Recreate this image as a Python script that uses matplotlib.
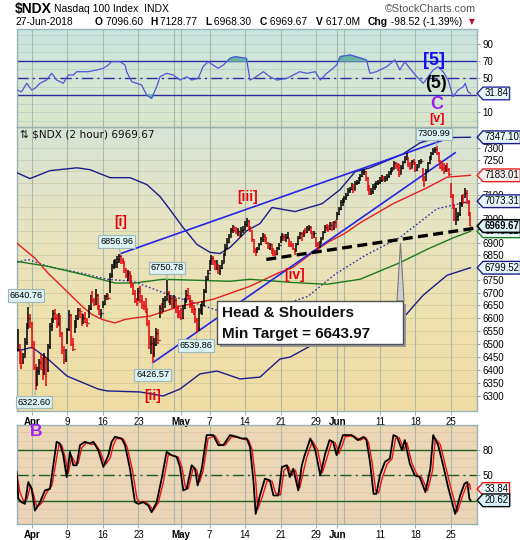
import numpy as np
import matplotlib
matplotlib.use("Agg")
import matplotlib.pyplot as plt
from matplotlib.path import Path
from matplotlib.patches import Rectangle, Polygon
from matplotlib.colors import LinearSegmentedColormap
from matplotlib.ticker import FixedLocator, FixedFormatter, NullLocator

plt.rcParams['font.family'] = ['Liberation Sans', 'DejaVu Sans']

# ------------------------------------------------------------------ data
# 2-hour bars, 4 per trading day, 28-Mar-2018 .. 27-Jun-2018 (high, low, close)
bar_high = [
    6555, 6500, 6470, 6465,  6520, 6580, 6641, 6615,  6585, 6510, 6420, 6410,
    6440, 6460, 6450, 6465,  6450, 6500, 6580, 6600,  6630, 6635, 6615, 6620,
    6610, 6545, 6490, 6480,  6560, 6630, 6615, 6520,  6590, 6610, 6640, 6640,
    6620, 6615, 6625, 6600,  6650, 6690, 6705, 6680,  6715, 6695, 6650, 6635,
    6665, 6690, 6700, 6695,  6780, 6815, 6830, 6835,  6845, 6857, 6850, 6840,
    6825, 6800, 6790, 6785,  6770, 6740, 6710, 6680,  6720, 6725, 6690, 6665,
    6680, 6640, 6590, 6530,  6530, 6520, 6560, 6555,  6650, 6660, 6680, 6685,
    6751, 6705, 6690, 6685,  6690, 6680, 6650, 6630,  6640, 6650, 6680, 6710,
    6720, 6690, 6670, 6650,  6640, 6600, 6640, 6655,  6665, 6715, 6765, 6790,
    6830, 6852, 6845, 6830,  6830, 6815, 6810, 6830,  6860, 6895, 6920, 6935,
    6960, 6975, 6970, 6965,  6960, 6950, 6965, 6970,  6990, 7005, 6995, 6970,
    6950, 6915, 6880, 6885,  6900, 6925, 6940, 6935,  6925, 6905, 6900, 6895,
    6880, 6870, 6885, 6900,  6930, 6940, 6935, 6935,  6945, 6920, 6910, 6900,
    6880, 6900, 6930, 6945,  6945, 6955, 6960, 6970,  6975, 6970, 6950, 6950,
    6925, 6905, 6910, 6925,  6950, 6975, 6980, 6975,  6985, 6985, 6990, 6995,
    7030, 7050, 7080, 7085,  7095, 7110, 7130, 7135,  7150, 7145, 7160, 7165,
    7175, 7190, 7205, 7210,  7200, 7175, 7140, 7130,  7145, 7150, 7160, 7165,
    7175, 7185, 7180, 7180,  7190, 7200, 7215, 7220,  7245, 7240, 7235, 7230,
    7225, 7245, 7265, 7280,  7260, 7240, 7250, 7255,  7240, 7230, 7250, 7255,
    7215, 7180, 7210, 7240,  7265, 7285, 7300, 7305,  7309.99, 7285, 7250, 7245,
    7235, 7225, 7235, 7215,  7150, 7105, 7060, 7045,  7030, 7070, 7100, 7105,
    7128.77, 7120, 7080, 7030]
bar_low = [
    6470, 6420, 6401, 6420,  6450, 6495, 6555, 6560,  6480, 6400, 6322.6, 6340,
    6380, 6400, 6360, 6380,  6340, 6390, 6480, 6550,  6580, 6590, 6560, 6570,
    6525, 6460, 6420, 6430,  6500, 6550, 6490, 6470,  6540, 6560, 6590, 6600,
    6570, 6575, 6580, 6565,  6600, 6630, 6660, 6645,  6650, 6630, 6610, 6600,
    6640, 6650, 6670, 6670,  6700, 6760, 6795, 6800,  6800, 6820, 6815, 6815,
    6780, 6760, 6745, 6740,  6720, 6690, 6660, 6645,  6665, 6660, 6635, 6630,
    6620, 6570, 6480, 6460,  6426.57, 6450, 6490, 6500,  6600, 6615, 6625, 6640,
    6670, 6660, 6650, 6640,  6640, 6620, 6600, 6600,  6590, 6595, 6635, 6660,
    6670, 6640, 6620, 6610,  6580, 6539.86, 6550, 6615,  6610, 6645, 6700, 6750,
    6785, 6810, 6810, 6790,  6790, 6775, 6770, 6795,  6820, 6845, 6875, 6900,
    6925, 6940, 6945, 6935,  6930, 6920, 6925, 6940,  6955, 6965, 6955, 6945,
    6905, 6860, 6845, 6860,  6870, 6890, 6905, 6905,  6895, 6875, 6870, 6855,
    6848, 6845, 6850, 6870,  6900, 6910, 6910, 6905,  6915, 6885, 6885, 6870,
    6852, 6865, 6890, 6915,  6910, 6925, 6935, 6940,  6950, 6935, 6915, 6920,
    6885, 6872, 6880, 6895,  6915, 6940, 6950, 6945,  6955, 6950, 6955, 6960,
    6995, 7015, 7035, 7055,  7065, 7080, 7095, 7110,  7120, 7110, 7120, 7140,
    7145, 7160, 7175, 7185,  7160, 7115, 7100, 7100,  7105, 7120, 7130, 7140,
    7145, 7155, 7160, 7155,  7160, 7170, 7185, 7195,  7210, 7210, 7200, 7175,
    7190, 7210, 7235, 7250,  7220, 7205, 7215, 7225,  7195, 7200, 7220, 7230,
    7160, 7135, 7160, 7195,  7230, 7250, 7270, 7280,  7270, 7240, 7210, 7200,
    7190, 7195, 7195, 7180,  7085, 7040, 6990, 6973,  6990, 7010, 7050, 7060,
    7085, 7060, 7010, 6968.3]
bar_close = [
    6480, 6440, 6430, 6450,  6505, 6570, 6600, 6581,  6500, 6410, 6350, 6395,
    6430, 6420, 6395, 6450,  6400, 6490, 6570, 6590,  6620, 6600, 6580, 6605,
    6540, 6475, 6440, 6450,  6555, 6610, 6500, 6480,  6580, 6600, 6630, 6626,
    6590, 6600, 6585, 6580,  6640, 6680, 6670, 6654,  6690, 6640, 6615, 6621,
    6655, 6685, 6690, 6679,  6770, 6805, 6820, 6823,  6835, 6845, 6830, 6829,
    6790, 6770, 6780, 6770,  6730, 6700, 6670, 6658,  6705, 6670, 6650, 6646,
    6630, 6580, 6500, 6502,  6470, 6500, 6540, 6515,  6640, 6630, 6670, 6670,
    6700, 6675, 6680, 6660,  6670, 6640, 6615, 6605,  6600, 6640, 6670, 6690,
    6680, 6650, 6635, 6615,  6590, 6560, 6630, 6640,  6650, 6705, 6755, 6780,
    6820, 6840, 6825, 6800,  6800, 6785, 6800, 6820,  6850, 6880, 6905, 6925,
    6955, 6965, 6955, 6944,  6950, 6930, 6955, 6955,  6980, 6990, 6965, 6955,
    6915, 6870, 6865, 6875,  6895, 6915, 6930, 6915,  6900, 6885, 6895, 6870,
    6860, 6855, 6880, 6890,  6920, 6930, 6925, 6925,  6930, 6895, 6890, 6880,
    6870, 6895, 6920, 6940,  6935, 6950, 6945, 6960,  6965, 6945, 6935, 6940,
    6895, 6885, 6900, 6915,  6945, 6965, 6960, 6958,  6975, 6960, 6985, 6967,
    7020, 7040, 7070, 7070,  7090, 7100, 7120, 7125,  7140, 7120, 7150, 7155,
    7165, 7180, 7195, 7200,  7170, 7125, 7110, 7115,  7135, 7140, 7150, 7155,
    7165, 7175, 7170, 7172,  7180, 7195, 7205, 7210,  7235, 7225, 7215, 7190,
    7215, 7240, 7255, 7265,  7230, 7215, 7245, 7240,  7205, 7220, 7245, 7245,
    7170, 7165, 7200, 7235,  7260, 7280, 7290, 7295,  7280, 7245, 7220, 7215,
    7205, 7215, 7210, 7190,  7095, 7050, 7000, 7010,  7020, 7060, 7090, 7068.19,
    7110, 7070, 7020, 6969.67]
bars_per_day = 4

# moving averages / bands (trading-day index, price)
ma50_days = [-0.11, 2.42, 4.25, 6.65, 9.04, 10.45, 11.86, 13.69, 15.1, 16.5, 18.62, 22.85,
             27.49, 32.7, 36.65, 38.77, 41.44, 43.55, 46.08, 48.2, 52.85, 57.63, 60.45, 63.75]
ma50_vals = [6899, 6838, 6778, 6712, 6646, 6613, 6594, 6580, 6594, 6600, 6607, 6646,
             6673, 6725, 6778, 6801, 6859, 6901, 6940, 6983, 7063, 7130, 7175, 7183.01]
ma200_days = [-0.11, 4.25, 9.04, 13.69, 16.5, 20.45, 25.24, 29.89, 32.7, 38.77, 43.55,
              48.2, 53.83, 57.63, 61.3, 63.75]
ma200_vals = [6825, 6805, 6773, 6738, 6738, 6753, 6749, 6745, 6753, 6740, 6733,
              6753, 6820, 6874, 6921, 6948.12]
bbmid_days = [-0.11, 1.44, 4.25, 9.04, 12.56, 16.23, 21.86, 24.68, 28.48, 34.11, 38.34,
              40.87, 44.68, 48.9, 53.83, 59.04, 63.75]
bbmid_vals = [6821, 6833, 6805, 6777, 6753, 6745, 6685, 6661, 6626, 6622, 6661,
              6685, 6773, 6849, 6923, 7042, 7073.31]
bbup_days = [-0.11, 1.72, 4.54, 8.34, 10.17, 12.99, 15.8, 18.2, 20.03, 21.44, 23.27, 25.24,
             27.07, 28.48, 29.89, 32.28, 34.11, 35.8, 39.04, 42.85, 45.38, 47.49, 49.6,
             54.25, 56.65, 59.04, 63.75]
bbup_vals = [7194, 7169, 7203, 7215, 7207, 7173, 7173, 7143, 7093, 7038, 6964, 6894,
             6862, 6857, 6882, 6951, 6980, 7047, 7030, 7063, 7122, 7198, 7215,
             7275, 7323, 7345, 7347.10]
bblo_days = [-0.11, 2.0, 4.25, 6.93, 11.3, 12.56, 17.21, 20.45, 22.85, 25.66, 28.06, 31.3,
             34.11, 36.93, 38.34, 41.15, 48.2, 54.25, 57.07, 60.45, 63.75]
bblo_vals = [6471, 6486, 6441, 6376, 6327, 6320, 6316, 6301, 6327, 6384, 6395, 6365,
             6372, 6441, 6448, 6490, 6548, 6599, 6689, 6769, 6799.52]

chan_up_days = [14.5, 61.2]
chan_up_vals = [6856.96, 7349]
chan_lo_days = [19.0, 61.6]
chan_lo_vals = [6426.57, 7280]
neck_days = [35.0, 64.6]
neck_vals = [6833, 6962]

# RSI (top panel)
rsi_days = [-0.16, 0.54, 1.25, 1.95, 2.42, 3.13, 4.07, 4.77, 5.48, 6.41, 7.12, 7.82, 8.29, 9.93,
            11.1, 12.05, 12.75, 13.22, 14.4, 15.1, 15.33, 16.04, 16.74, 17.44, 18.15, 18.85,
            19.56, 20.03, 20.97, 21.9, 22.85, 23.8, 24.5, 25.4, 26.1, 26.8, 28.2, 28.95, 29.9,
            30.6, 32.2, 32.7, 33.2, 34.6, 35.5, 36.5, 37.9, 38.8, 39.7, 40.7, 41.9, 42.6, 43.5,
            44.4, 44.9, 45.4, 46.8, 48.4, 49.1, 49.6, 50.5, 51.95, 53.1, 53.8, 54.5, 55.2, 56.2,
            57.1, 57.8, 58.5, 59.2, 59.9, 60.6, 61.3, 62.0, 62.75, 63.0, 63.4, 63.75]
rsi_vals = [35.9, 33.9, 43.8, 35.9, 37.9, 43.8, 47.6, 55.5, 47.6, 43.8, 53.5, 53.5, 57.4, 57.4,
            59.4, 61.4, 65.3, 69.2, 69.2, 65.3, 57.4, 45.7, 43.8, 41.8, 30, 26.1, 39.8, 51.5,
            55.5, 53.5, 47.6, 51.5, 47.6, 49.6, 63.3, 69.2, 61.4, 65.3, 73.1, 75.1, 73.1, 47.6,
            49.6, 57.4, 51.5, 47.6, 49.6, 53.5, 57.4, 55.5, 57.4, 47.6, 55.5, 61.4, 65.3, 75.1,
            77.1, 73.1, 71.2, 55.5, 57.4, 63.3, 71.2, 59.4, 69.2, 61.4, 51.5, 43.8, 51.5, 59.4,
            63.3, 57.4, 47.6, 28, 35.9, 39.8, 43.8, 33.9, 31.84]

# Slow stochastic (bottom panel): %K black, %D red
k_days = [-0.16, 0.07, 0.54, 1.01, 1.48, 1.95, 2.42, 3.13, 3.83, 4.54, 5.0, 5.47, 5.94, 6.41,
          6.88, 7.35, 7.82, 8.29, 8.76, 9.46, 10.17, 10.64, 11.34, 12.05, 12.75, 13.22, 13.69,
          14.63, 15.1, 15.8, 16.5, 16.98, 17.68, 18.38, 18.85, 19.56, 20.26, 20.96, 21.67,
          22.37, 22.84, 23.31, 23.78, 24.49, 24.96, 25.33, 25.9, 26.6, 27.54, 28.24, 28.95,
          29.89, 30.83, 31.53, 32.24, 32.7, 33.2, 33.5, 34.1, 34.8, 35.5, 36.0, 36.7, 37.2,
          37.9, 38.3, 38.8, 39.5, 40.0, 40.4, 41.2, 41.9, 42.6, 43.3, 43.9, 44.4, 44.9, 45.4,
          45.8, 47.0, 47.9, 48.7, 49.1, 49.6, 50.1, 50.5, 51.0, 51.7, 52.4, 52.9, 53.4, 54.1,
          54.5, 55.2, 55.9, 56.6, 57.4, 58.1, 58.5, 59.2, 59.9, 60.6, 61.6, 62.3, 62.9, 63.3,
          63.6, 63.75]
k_vals = [53.7, 22.4, 18.4, 16.5, 42, 34.1, 8.6, 18.4, 32.2, 34.1, 61.6, 89, 87.1, 73.3,
          47.8, 77.3, 61.6, 61.6, 85.1, 89, 87.1, 89, 79.2, 59.6, 73.3, 89, 94.9, 92.9, 85.1,
          57.6, 18.4, 16.5, 18.4, 14.5, 6.7, 18.4, 45.9, 77.3, 73.3, 71.4, 59.6, 32.2, 34.1,
          61.6, 57.6, 38, 57.6, 96.9, 96.9, 85.1, 85.1, 96.9, 94.9, 92.9, 92.9, 83.1, 42, 4.7,
          26.3, 45.9, 43.9, 26.3, 26.3, 59.6, 61.6, 47.8, 57.6, 32.2, 61.6, 73.3, 92.9, 79.2,
          49.8, 75.3, 91, 89, 73.3, 87.1, 96.9, 96.9, 91, 94.9, 91, 65.5, 28.2, 28.2, 49.8,
          65.5, 69.4, 96.9, 94.9, 79.2, 91, 63.5, 49.8, 47.8, 30.2, 57.6, 96.9, 85.1, 61.6,
          36.1, 4.7, 26.3, 40, 42, 22.4, 20.62]
d_days = [-0.1, 0.3, 0.8, 1.3, 1.8, 2.2, 2.7, 3.4, 4.1, 4.8, 5.3, 5.8, 6.2, 6.7, 7.1, 7.6, 8.1,
          8.5, 9.0, 9.7, 10.4, 10.9, 11.6, 12.3, 13.0, 13.5, 13.9, 14.9, 15.4, 16.1, 16.8, 17.3,
          18.0, 18.6, 19.1, 19.8, 20.5, 21.2, 21.9, 22.6, 23.1, 23.6, 24.0, 24.7, 25.2, 25.6,
          26.1, 26.8, 27.8, 28.5, 29.2, 30.1, 31.1, 31.8, 32.5, 33.0, 33.5, 33.8, 34.4, 35.1,
          35.8, 36.3, 37.0, 37.5, 38.1, 38.6, 39.1, 39.7, 40.3, 40.7, 41.5, 42.2, 42.9, 43.6,
          44.2, 44.7, 45.2, 45.7, 46.1, 47.3, 48.2, 49.0, 49.4, 49.9, 50.4, 50.8, 51.3, 52.0,
          52.7, 53.2, 53.7, 54.4, 54.8, 55.5, 56.2, 56.9, 57.7, 58.4, 58.8, 59.5, 60.2, 60.9,
          61.9, 62.6, 63.2, 63.6, 63.75]
d_vals = [50, 30, 20, 22, 38, 28, 12, 18, 30, 38, 62, 86, 85, 70, 52, 72, 64, 64, 82, 88, 86,
          87, 78, 62, 70, 86, 93, 92, 83, 58, 22, 18, 19, 14, 9, 18, 42, 74, 73, 71, 60, 36, 34,
          58, 56, 42, 55, 93, 96, 86, 85, 95, 94, 92, 91, 80, 44, 10, 24, 43, 43, 29, 27, 56,
          60, 50, 56, 35, 57, 71, 90, 80, 53, 72, 89, 88, 75, 85, 95, 96, 91, 94, 88, 65, 32,
          29, 46, 63, 69, 93, 94, 80, 88, 64, 51, 47, 32, 55, 93, 86, 62, 38, 7, 25, 38, 40,
          33.84]

tick_days = [2, 7, 12, 17, 23, 27, 32, 37, 42, 45, 51, 56, 61]
tick_labels = ['Apr', '9', '16', '23', 'May', '7', '14', '21', '29', 'Jun', '11', '18', '25']
grid_days = [2, 7, 12, 17, 22, 23, 27, 32, 37, 42, 45, 46, 51, 56, 61]
price_ticks = list(range(6300, 7301, 50))
hidden_price_labels = [6800, 6950, 7050, 7150, 7200]   # covered by value tags

# ------------------------------------------------------------------ layout helpers
W, H = 520, 540
fig = plt.figure(figsize=(W / 100, H / 100), dpi=100)
fig.patch.set_facecolor('white')


def rect(x0, y0, x1, y1):
    return [x0 / W, 1 - y1 / H, (x1 - x0) / W, (y1 - y0) / H]


SPINE = '#9db3b3'
XLIM = (-0.11, 64.67)


def make_panel(r, colors):
    bg = fig.add_axes(r, zorder=0)
    grad = np.linspace(0, 1, 256).reshape(-1, 1)
    cmap = LinearSegmentedColormap.from_list('g', colors)
    bg.imshow(grad, aspect='auto', cmap=cmap, extent=[0, 1, 0, 1], origin='upper')
    bg.set_axis_off()
    ax = fig.add_axes(r, zorder=1)
    ax.patch.set_alpha(0)
    for s in ax.spines.values():
        s.set_color(SPINE)
        s.set_linewidth(1.0)
    ax.set_xlim(*XLIM)
    for d in grid_days:
        ax.axvline(d, color='#a9b8aa', lw=0.8, zorder=0.5)
    ax.set_xticks(tick_days)
    return ax


def tag_box(x0, y0, width, height, mutation_size, *args):
    pad = mutation_size * 0.14
    x0 -= pad
    y0 -= pad
    width += 2 * pad
    height += 2 * pad
    tip = height * 0.45
    verts = [(x0, y0), (x0 + width, y0), (x0 + width, y0 + height), (x0, y0 + height),
             (x0 - tip, y0 + height / 2), (x0, y0)]
    return Path(verts, closed=True)


def tag(ax, yval, text, ec, fc='#e6f5f8', bold=False, lw=1.0):
    ax.annotate(text, xy=(1, yval), xycoords=('axes fraction', 'data'), xytext=(5.2, 0),
                textcoords='offset points', ha='left', va='center', fontsize=6.9,
                fontweight='bold' if bold else 'normal',
                bbox=dict(boxstyle=tag_box, fc=fc, ec=ec, lw=lw),
                annotation_clip=False, zorder=30)


def style_right(ax, size=7):
    ax.yaxis.tick_right()
    ax.tick_params(axis='y', labelsize=size, length=2.5, width=0.6, color='#7f8f8f',
                   pad=1.5, labelcolor='black')


# ------------------------------------------------------------------ top panel (RSI)
axr = make_panel(rect(17, 29, 477, 127), ['#c9e4df', '#d3e6d6', '#dbe7cc'])
axr.set_ylim(-7.6, 107.6)
for v in range(0, 101, 10):
    axr.axhline(v, color='#b7cbc4', lw=0.5, zorder=0.4)
axr.axhline(70, color='#2b2ba0', lw=1.0, zorder=2)
axr.axhline(30, color='#2b2ba0', lw=1.0, zorder=2)
axr.axhline(50, color='#2b2ba0', lw=1.0, ls=(0, (8, 3, 1.5, 3)), zorder=2)
rv = np.array(rsi_vals)
axr.fill_between(rsi_days, rv, 70, where=rv >= 70, interpolate=True, color='#69b3a6', zorder=2.5)
axr.fill_between(rsi_days, rv, 30, where=rv <= 30, interpolate=True, color='#69b3a6', zorder=2.5)
axr.plot(rsi_days, rsi_vals, color='#4a58d6', lw=0.9, zorder=3)
axr.set_yticks([10, 50, 70, 90])
style_right(axr)
axr.tick_params(axis='x', length=0, labelbottom=False)
tag(axr, 31.84, '31.84', '#2b2ba0')
axr.text(58.6, 70, '[5]', color='#1010f0', fontsize=13, fontweight='bold',
         ha='center', va='center', zorder=20)
axr.text(58.9, 44, '(5)', color='black', fontsize=13, fontweight='bold',
         ha='center', va='center', zorder=20)
axr.text(59.0, 19.0, 'C', color='#a020f0', fontsize=13, fontweight='bold',
         ha='center', va='center', zorder=20)

# ------------------------------------------------------------------ main price panel
ax = make_panel(rect(17, 127, 477, 411), ['#d6e3d6', '#e6e4c2', '#eee1ae', '#efdca4'])
ax.set_yscale('log')
ax.set_ylim(6245, 7392)
ax.yaxis.set_major_locator(FixedLocator(price_ticks))
ax.yaxis.set_major_formatter(FixedFormatter(
    ['' if p in hidden_price_labels else str(p) for p in price_ticks]))
ax.yaxis.set_minor_locator(NullLocator())
style_right(ax)
for p in price_ticks:
    ax.axhline(p, color='#b9b48a', lw=0.5, alpha=0.55, zorder=0.4)
ax.set_xticklabels(tick_labels, fontsize=7)
for lab in ax.get_xticklabels():
    if lab.get_text() in ('Apr', 'May', 'Jun'):
        lab.set_fontweight('bold')
ax.tick_params(axis='x', length=3, width=0.6, color='#8f9f9f', pad=1.5)

# indicators
ax.plot(bbup_days, bbup_vals, color='#1c1c8a', lw=1.0, zorder=3)
ax.plot(bblo_days, bblo_vals, color='#1c1c8a', lw=1.0, zorder=3)
ax.plot(bbmid_days, bbmid_vals, color='#3030b0', lw=1.0, ls=(0, (1.2, 1.6)), zorder=3)
ax.plot(ma50_days, ma50_vals, color='#e52020', lw=1.0, zorder=3)
ax.plot(ma200_days, ma200_vals, color='#1f7a1f', lw=1.0, zorder=3)
ax.plot(chan_up_days, chan_up_vals, color='#2525e8', lw=1.2, zorder=3.5)
ax.plot(chan_lo_days, chan_lo_vals, color='#2525e8', lw=1.2, zorder=3.5)
ax.plot(neck_days, neck_vals, color='black', lw=2.4, ls=(0, (3.0, 1.6)), zorder=3.6)

# price bars
n = len(bar_close)
xb = np.arange(n) / bars_per_day
cl = np.array(bar_close, dtype=float)
prev = np.r_[cl[0], cl[:-1]]
cols = np.where(cl < prev, '#e8000b', '#000000')
ax.vlines(xb, bar_low, bar_high, colors=cols, lw=1.1, zorder=4)
ax.hlines(prev, xb - 0.11, xb, colors=cols, lw=0.9, zorder=4)
ax.hlines(cl, xb, xb + 0.11, colors=cols, lw=0.9, zorder=4)

# right-hand value tags
tag(ax, 7347.10, '7347.10', '#1c1c8a')
tag(ax, 7183.01, '7183.01', '#e52020', fc='#f7f1f1')
tag(ax, 7073.31, '7073.31', '#1c1c8a')
tag(ax, 6948.12, '6948.12', '#1f7a1f')
tag(ax, 6969.67, '6969.67', '#000000', fc='#dff3f6', bold=True, lw=1.2)
tag(ax, 6799.52, '6799.52', '#1c1c8a')

# peak / trough value labels
peak_labels = [(1.75, 6640.76, '6640.76', 1, -3), (14.5, 6856.96, '6856.96', 1, -3),
               (21.0, 6750.78, '6750.78', 1, 0), (25.25, 6539.86, '6539.86', -1, -1),
               (19.0, 6426.57, '6426.57', -1, 0), (2.5, 6322.60, '6322.60', -1, -1),
               (59.0, 7309.99, '7309.99', 1, -2)]
for d, p, t, side, dx in peak_labels:
    ax.annotate(t, xy=(d, p), xytext=(dx, 5.5 * side), textcoords='offset points',
                ha='center', va='bottom' if side > 0 else 'top', fontsize=6.6,
                bbox=dict(boxstyle='square,pad=0.18', fc='#dcf1f1', ec='#9fb8b8', lw=0.8),
                arrowprops=dict(arrowstyle='-', color='#9fb8b8', lw=0.8, shrinkA=0, shrinkB=0),
                annotation_clip=False, zorder=25)

# Elliott wave labels
for d, p, t, fs in [(14.55, 6988, '[i]', 10), (32.3, 7089, '[iii]', 10), (19.0, 6300, '[ii]', 10),
                    (39.0, 6769, '[iv]', 10), (59.0, 7425, '[v]', 9)]:
    ax.text(d, p, t, color='#e8000b', fontsize=fs, fontweight='bold', ha='center',
            va='center', zorder=26, clip_on=False)

ax.text(0.25, 7360, '\u21c5 $NDX (2 hour) 6969.67', fontsize=7.6, ha='left', va='center',
        color='#111111', zorder=26, family=['DejaVu Sans'])

# ------------------------------------------------------------------ bottom panel (stochastic)
axs = make_panel(rect(17, 425, 477, 524), ['#ecd8b6', '#ead4b8'])
axs.set_ylim(-7.1, 108.7)
for v in range(0, 101, 10):
    axs.axhline(v, color='#dcc3a3', lw=0.5, zorder=0.4)
axs.axhline(80, color='#1c5e1c', lw=1.0, zorder=2)
axs.axhline(20, color='#1c5e1c', lw=1.0, zorder=2)
axs.axhline(50, color='#1c5e1c', lw=1.0, ls=(0, (8, 3, 1.5, 3)), zorder=2)
axs.plot(d_days, d_vals, color='#ee1111', lw=1.0, zorder=3)
axs.plot(k_days, k_vals, color='black', lw=1.3, zorder=3.2)
axs.set_yticks([50, 80])
style_right(axs)
axs.set_xticklabels(tick_labels, fontsize=7)
for lab in axs.get_xticklabels():
    if lab.get_text() in ('Apr', 'May', 'Jun'):
        lab.set_fontweight('bold')
axs.tick_params(axis='x', length=3, width=0.6, color='#8f9f9f', pad=1.5)
tag(axs, 33.84, '33.84', '#ee1111')
tag(axs, 20.62, '20.62', '#000000', fc='#d6f1f7')
axs.text(2.6, 101.0, 'B', color='#a020f0', fontsize=12.5, fontweight='bold', ha='center',
         va='center', zorder=20, clip_on=False)

# ------------------------------------------------------------------ overlay (header, callout)
ov = fig.add_axes([0, 0, 1, 1], zorder=5)
ov.set_xlim(0, W)
ov.set_ylim(H, 0)
ov.set_axis_off()
ov.patch.set_alpha(0)

ov.text(15, 8.5, '$NDX', fontsize=10, fontweight='bold', va='center', ha='left')
ov.text(54, 8.5, 'Nasdaq 100 Index  INDX', fontsize=7.5, va='center', ha='left')
ov.text(476, 8.5, '\u00a9StockCharts.com', fontsize=7.8, va='center', ha='right', color='#555555')
ov.text(15, 22, '27-Jun-2018', fontsize=7.4, va='center', ha='left')
hdr = [(95, 'O', '7096.60'), (150, 'H', '7128.77'), (205, 'L', '6968.30'),
       (260, 'C', '6969.67'), (316, 'V', '617.0M'), (368, 'Chg', '-98.52 (-1.39%)')]
for x0, k, v in hdr:
    t = ov.text(x0, 22, k, fontsize=7.4, fontweight='bold', va='center', ha='left')
    ov.annotate(' ' + v, xy=(1, 0.5), xycoords=t, fontsize=7.4, va='center', ha='left')
ov.text(472, 22, '\u25bc', fontsize=5.5, va='center', ha='center', color='#b0102a',
        family=['DejaVu Sans'])

# Head & Shoulders callout
ov.add_patch(Polygon([(397, 301), (400.5, 243), (404, 301)], closed=True, fc='#cfcfcf',
                     ec='#7a7a7a', lw=0.8, zorder=1))
ov.add_patch(Rectangle((220, 304), 186, 43, fc='#9a9a9a', ec='none', zorder=2))
ov.add_patch(Rectangle((217, 301), 186, 43, fc='white', ec='#505050', lw=1.0, zorder=3))
ov.text(222, 313, 'Head & Shoulders', fontsize=11, fontweight='bold', va='center',
        ha='left', zorder=4, color='#111111')
ov.text(222, 334, 'Min Target = 6643.97', fontsize=11, fontweight='bold', va='center',
        ha='left', zorder=4, color='#111111')

fig.savefig('out.png', dpi=100, facecolor='white')
